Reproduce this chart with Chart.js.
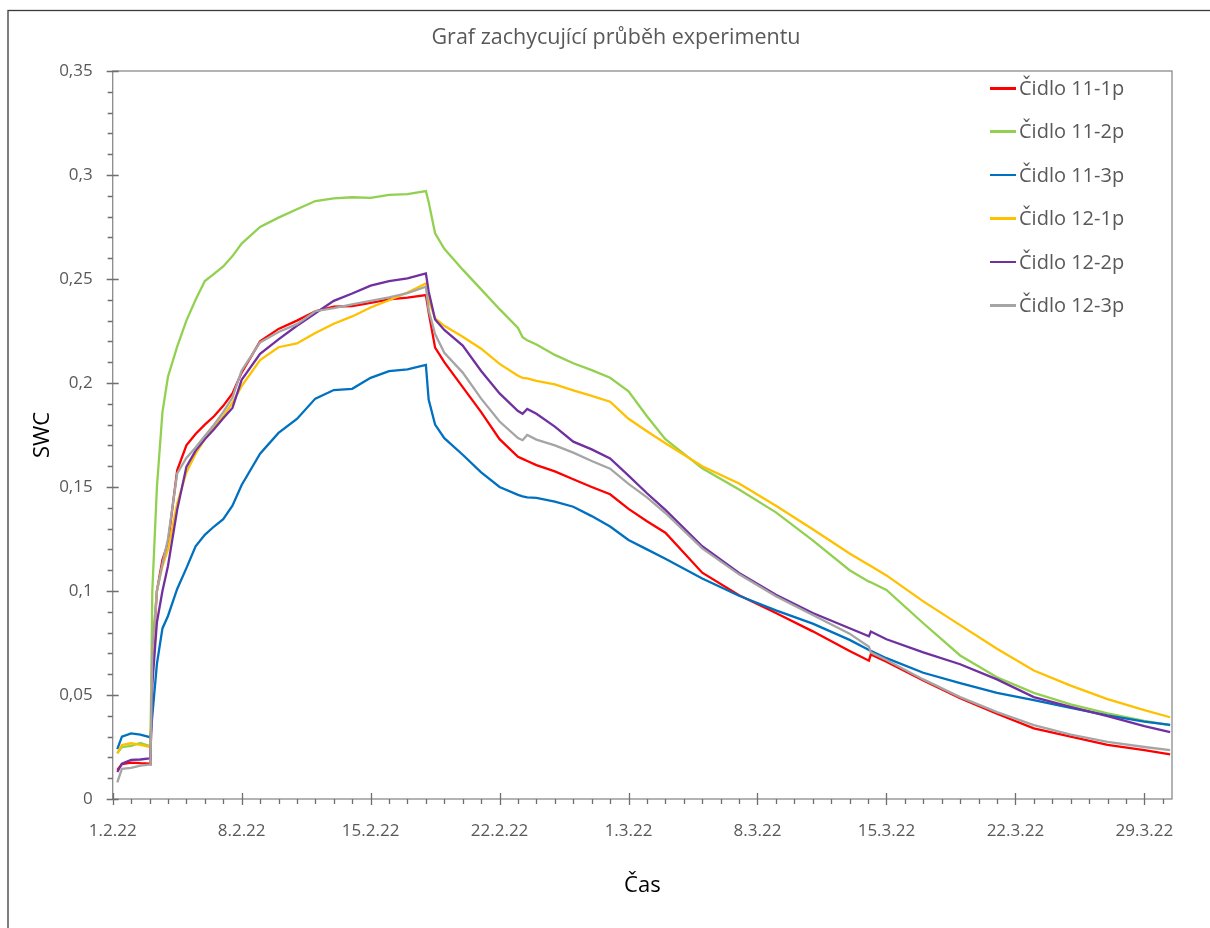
<!DOCTYPE html>
<html>
<head>
<meta charset="utf-8">
<title>Graf zachycující průběh experimentu</title>
<script src="https://cdn.jsdelivr.net/npm/chart.js@4.4.1/dist/chart.umd.min.js"></script>
<style>
  body { margin: 0; background: #fff; }
  #wrap { position: relative; width: 1210px; height: 928px; overflow: hidden; }
  #legenda { position: absolute; left: 990px; top: 0; font-family: 'Open Sans', sans-serif; font-size: 20px; color: #595959; }
  .polozka { position: absolute; left: 0; white-space: nowrap; height: 26px; line-height: 26px; }
  .car { position: absolute; left: 0; top: 12px; width: 26px; height: 2.5px; }
  .popis { position: absolute; left: 29px; top: 0; }
</style>
</head>
<body>
<div id="wrap">
  <canvas id="graf" width="1210" height="928"></canvas>
  <div id="legenda"></div>
</div>
<script>
// cas ve dnech od 1.2.22
const dny = [0.25, 0.5, 1, 1.5, 2, 2.05, 2.15, 2.4, 2.7, 3, 3.5, 4, 4.5, 5, 5.5, 6, 6.5, 7, 8, 9,
  10, 11, 12, 13, 14, 15, 16, 17, 17.15, 17.5, 18, 19, 20, 21, 22, 22.25, 22.5, 23, 24, 25,
  26, 27, 28, 29, 30, 32, 34, 36, 38, 40, 41.05, 41.15, 42, 44, 46, 48, 50, 52, 54, 56, 57.4];

const cidlo11_1p = [0.014, 0.0168, 0.0175, 0.0172, 0.017, 0.0168, 0.065, 0.100, 0.115, 0.123, 0.158, 0.170, 0.1755, 0.180, 0.184, 0.189, 0.195, 0.205, 0.220, 0.226,
  0.230, 0.2345, 0.2367, 0.237, 0.2385, 0.2402, 0.241, 0.2423, 0.234, 0.217, 0.210, 0.198, 0.186, 0.173, 0.1645, 0.1635, 0.1625, 0.1605, 0.1575, 0.1537,
  0.150, 0.1465, 0.1395, 0.1335, 0.128, 0.1088, 0.098, 0.0894, 0.0806, 0.0712, 0.0665, 0.0695, 0.066, 0.057, 0.0485, 0.041, 0.034, 0.030, 0.026, 0.0235, 0.0215];

const cidlo11_2p = [0.022, 0.025, 0.0255, 0.027, 0.0255, 0.025, 0.100, 0.150, 0.186, 0.203, 0.2175, 0.230, 0.240, 0.249, 0.2525, 0.256, 0.261, 0.267, 0.275, 0.2795,
  0.2835, 0.2875, 0.2888, 0.2893, 0.289, 0.2904, 0.2908, 0.2923, 0.287, 0.272, 0.2645, 0.2545, 0.245, 0.2355, 0.2265, 0.222, 0.2205, 0.2185, 0.2135, 0.2095,
  0.2062, 0.2025, 0.196, 0.184, 0.173, 0.159, 0.1488, 0.1378, 0.1243, 0.110, 0.1045, 0.1042, 0.1005, 0.0845, 0.069, 0.0585, 0.051, 0.0455, 0.0412, 0.0375, 0.0355];

const cidlo11_3p = [0.024, 0.030, 0.0315, 0.031, 0.0298, 0.0293, 0.040, 0.065, 0.082, 0.088, 0.101, 0.111, 0.1215, 0.127, 0.131, 0.1345, 0.141, 0.151, 0.166, 0.176,
  0.1827, 0.1925, 0.1966, 0.1972, 0.2025, 0.2057, 0.2066, 0.2087, 0.192, 0.180, 0.1735, 0.1655, 0.157, 0.150, 0.1462, 0.1455, 0.145, 0.1448, 0.143, 0.1405,
  0.136, 0.131, 0.1245, 0.120, 0.1155, 0.106, 0.0977, 0.0907, 0.0843, 0.0765, 0.0716, 0.0712, 0.0677, 0.0607, 0.0557, 0.051, 0.0475, 0.0438, 0.0402, 0.0372, 0.0356];

const cidlo12_1p = [0.022, 0.026, 0.0268, 0.026, 0.025, 0.0245, 0.070, 0.100, 0.112, 0.120, 0.142, 0.157, 0.166, 0.173, 0.179, 0.184, 0.1905, 0.1985, 0.211, 0.2172,
  0.219, 0.224, 0.2285, 0.232, 0.2363, 0.2398, 0.2435, 0.2479, 0.240, 0.231, 0.2275, 0.2222, 0.2165, 0.2092, 0.2035, 0.2025, 0.2022, 0.201, 0.1993, 0.1965,
  0.1938, 0.191, 0.1828, 0.1768, 0.171, 0.160, 0.1517, 0.141, 0.1297, 0.118, 0.1125, 0.112, 0.1075, 0.095, 0.0836, 0.0722, 0.0618, 0.0545, 0.048, 0.0427, 0.0393];

const cidlo12_2p = [0.013, 0.017, 0.0188, 0.019, 0.0195, 0.0195, 0.055, 0.085, 0.100, 0.112, 0.139, 0.1597, 0.1675, 0.173, 0.1778, 0.183, 0.188, 0.2015, 0.214, 0.221,
  0.2275, 0.2335, 0.2395, 0.243, 0.2468, 0.249, 0.2503, 0.2527, 0.244, 0.2305, 0.2255, 0.218, 0.2058, 0.195, 0.1865, 0.1852, 0.1875, 0.1852, 0.179, 0.1718,
  0.1681, 0.1637, 0.1555, 0.147, 0.139, 0.1215, 0.1087, 0.0982, 0.0894, 0.0821, 0.0782, 0.0805, 0.0768, 0.0705, 0.0648, 0.0575, 0.049, 0.0443, 0.0398, 0.035, 0.0322];

const cidlo12_3p = [0.008, 0.0145, 0.015, 0.016, 0.0165, 0.0165, 0.072, 0.100, 0.113, 0.125, 0.1565, 0.164, 0.169, 0.1745, 0.180, 0.186, 0.193, 0.206, 0.2195, 0.2245,
  0.2283, 0.2345, 0.236, 0.2378, 0.2395, 0.2412, 0.2432, 0.2463, 0.2351, 0.2235, 0.2145, 0.205, 0.1925, 0.1815, 0.1735, 0.1725, 0.175, 0.1728, 0.170, 0.1665,
  0.1625, 0.1588, 0.1515, 0.145, 0.1375, 0.1205, 0.108, 0.0975, 0.0885, 0.0795, 0.0732, 0.0705, 0.0668, 0.0575, 0.049, 0.0418, 0.0355, 0.031, 0.0275, 0.025, 0.0235];

const nazvy = ['Čidlo 11-1p', 'Čidlo 11-2p', 'Čidlo 11-3p', 'Čidlo 12-1p', 'Čidlo 12-2p', 'Čidlo 12-3p'];
const barvy = ['#FF0000', '#92D050', '#0070C0', '#FFC000', '#7030A0', '#A5A5A5'];
const rady = [cidlo11_1p, cidlo11_2p, cidlo11_3p, cidlo12_1p, cidlo12_2p, cidlo12_3p];

const popiskyX = ['1.2.22', '8.2.22', '15.2.22', '22.2.22', '1.3.22', '8.3.22', '15.3.22', '22.3.22', '29.3.22'];
const popiskyY = ['0', '0,05', '0,1', '0,15', '0,2', '0,25', '0,3', '0,35'];

Chart.defaults.font.family = "'Open Sans', sans-serif";

// ramecek, okraj plochy grafu a drobne znacky na osach
const ramecek = {
  id: 'ramecek',
  beforeDraw(chart) {
    const ctx = chart.ctx;
    ctx.save();
    ctx.fillStyle = '#fff';
    ctx.fillRect(0, 0, chart.width, chart.height);
    ctx.strokeStyle = '#3a3a3a';
    ctx.lineWidth = 1.3;
    ctx.strokeRect(8, 10.5, 1240, 960);
    ctx.restore();
  },
  beforeDatasetsDraw(chart) {
    const { ctx, chartArea: a, scales: { x, y } } = chart;
    ctx.save();
    ctx.strokeStyle = '#8a8a8a';
    ctx.lineWidth = 1.3;
    ctx.strokeRect(a.left, a.top, a.right - a.left, a.bottom - a.top);
    ctx.beginPath();
    for (let d = 0; d <= 57; d++) {
      const px = Math.round(x.getPixelForValue(d)) + 0.5;
      if (d % 7 === 0) { ctx.moveTo(px, a.bottom - 6); ctx.lineTo(px, a.bottom + 6); }
      else { ctx.moveTo(px, a.bottom); ctx.lineTo(px, a.bottom + 5); }
    }
    for (let k = 0; k <= 35; k++) {
      const py = Math.round(y.getPixelForValue(k / 100)) + 0.5;
      if (k % 5 === 0) { ctx.moveTo(a.left - 6, py); ctx.lineTo(a.left + 6, py); }
      else { ctx.moveTo(a.left - 5, py); ctx.lineTo(a.left, py); }
    }
    ctx.strokeStyle = '#6e6e6e';
    ctx.stroke();
    ctx.restore();
  }
};

const datasets = rady.map((r, i) => ({
  label: nazvy[i],
  data: dny.map((d, j) => ({ x: d, y: r[j] })),
  borderColor: barvy[i],
  backgroundColor: barvy[i],
  borderWidth: 2.3,
  pointRadius: 0,
  tension: 0,
  order: rady.length - i
}));

new Chart(document.getElementById('graf'), {
  type: 'line',
  data: { datasets },
  options: {
    responsive: false,
    animation: false,
    layout: { padding: { left: 22, right: 0, top: 0, bottom: 0 } },
    plugins: {
      legend: { display: false },
      tooltip: { enabled: false },
      title: {
        display: true,
        text: 'Graf zachycující průběh experimentu',
        color: '#595959',
        font: { size: 21.5, weight: 'normal' },
        padding: { top: 25.1, bottom: 20.1 }
      }
    },
    scales: {
      x: {
        type: 'linear',
        min: 0,
        max: 57.5,
        grid: { display: false },
        border: { display: false },
        ticks: {
          stepSize: 7,
          includeBounds: false,
          autoSkip: false,
          maxRotation: 0,
          padding: 14,
          color: '#595959',
          font: { size: 17 },
          callback: v => popiskyX[Math.round(v / 7)]
        },
        title: { display: true, text: 'Čas', color: '#000', font: { size: 22 }, padding: { bottom: 29 } },
        afterFit(s) { s.height = 129; }
      },
      y: {
        min: 0,
        max: 0.35,
        grid: { display: false },
        border: { display: false },
        ticks: {
          stepSize: 0.05,
          padding: 12,
          color: '#595959',
          font: { size: 17 },
          callback: v => popiskyY[Math.round(v / 0.05)]
        },
        title: { display: true, text: 'SWC', color: '#000', font: { size: 22 }, padding: { top: 8 } },
        afterFit(s) { s.width = 90.7; }
      },
      prazdna: {
        position: 'right',
        grid: { display: false },
        border: { display: false },
        ticks: { display: false },
        afterFit(s) { s.width = 38; }
      }
    }
  },
  plugins: [ramecek]
});

// legenda vpravo nahore
const legenda = document.getElementById('legenda');
nazvy.forEach((n, i) => {
  const p = document.createElement('div');
  p.className = 'polozka';
  p.style.top = (75 + i * 43.4) + 'px';
  p.innerHTML = '<span class="car" style="background:' + barvy[i] + '"></span><span class="popis">' + n + '</span>';
  legenda.appendChild(p);
});
</script>
</body>
</html>
